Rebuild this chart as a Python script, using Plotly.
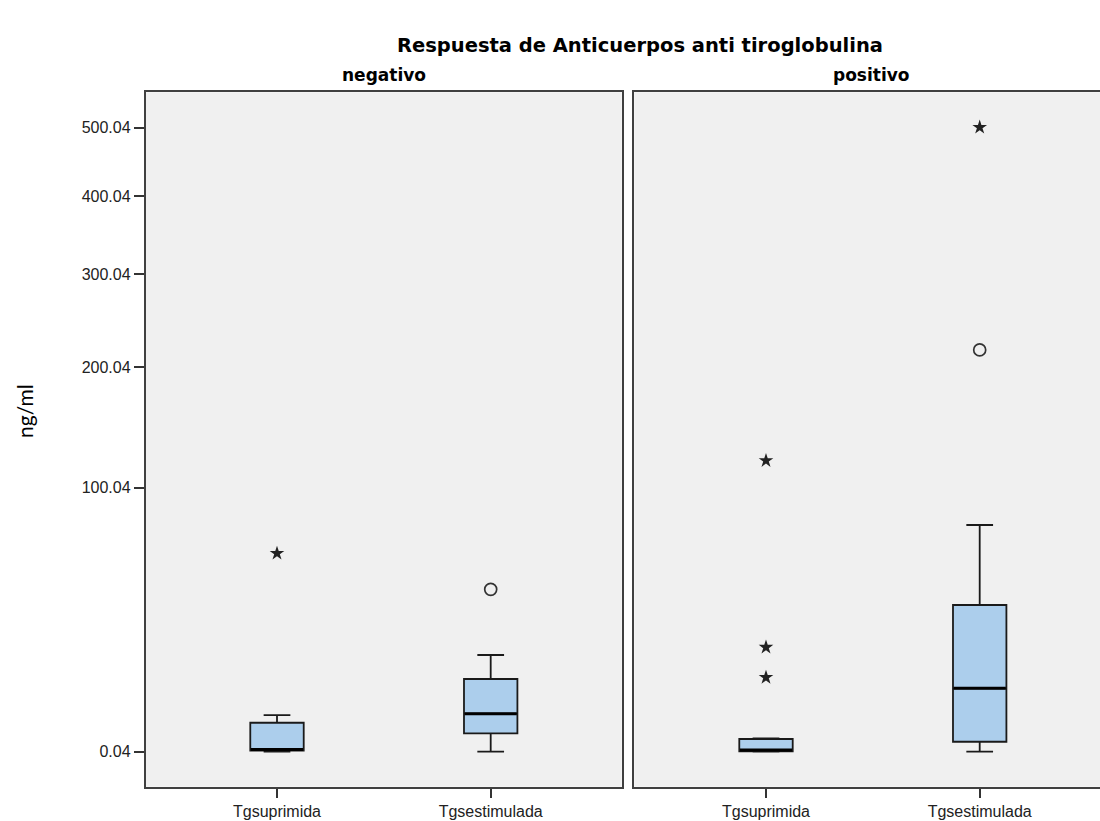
import numpy as np
import plotly.graph_objects as go

# ---------------- data (ng/ml) ----------------
categories = ["Tgsuprimida", "Tgsestimulada"]
panels = ["negativo", "positivo"]

# box statistics per panel: [Tgsuprimida, Tgsestimulada]
neg_lower = [0.04, 0.04]
neg_q1 = [0.12, 1.70]
neg_median = [0.20, 4.34]
neg_q3 = [3.01, 11.22]
neg_upper = [4.13, 17.64]

pos_lower = [0.04, 0.04]
pos_q1 = [0.06, 0.84]
pos_median = [0.16, 9.10]
pos_q3 = [1.10, 35.35]
pos_upper = [1.17, 75.90]

# outliers (circles) and extremes (stars)
neg_out_x = ["Tgsestimulada"]
neg_out_y = [42.1]
neg_ext_x = ["Tgsuprimida"]
neg_ext_y = [59.8]

pos_out_x = ["Tgsestimulada"]
pos_out_y = [217.0]
pos_ext_x = ["Tgsuprimida", "Tgsuprimida", "Tgsuprimida", "Tgsestimulada"]
pos_ext_y = [119.4, 20.0, 11.6, 500.4]

tick_values = [0.04, 100.04, 200.04, 300.04, 400.04, 500.04]
tick_labels = ["0.04", "100.04", "200.04", "300.04", "400.04", "500.04"]


def tr(v):
    """Square-root style axis scale used by the original chart."""
    return np.sqrt(np.asarray(v, dtype=float) + 0.96)


BOX_FILL = "#acceec"
W = 1100
H = 821
cat_pos = list(range(len(categories)))

fig = go.Figure()


def add_panel(xa, ya, lower, q1, med, q3, upper, ox, oy, ex, ey):
    fig.add_trace(go.Box(
        x=cat_pos, q1=tr(q1), median=tr(med), q3=tr(q3),
        lowerfence=tr(lower), upperfence=tr(upper),
        width=0.25, whiskerwidth=0.5,
        fillcolor=BOX_FILL, line=dict(color="#1a1a1a", width=1.8),
        boxpoints=False, xaxis=xa, yaxis=ya, showlegend=False, hoverinfo="skip"))
    # thick median lines
    for i in cat_pos:
        fig.add_trace(go.Scatter(
            x=[i - 0.122, i + 0.122], y=[float(tr(med[i])), float(tr(med[i]))],
            mode="lines", line=dict(color="black", width=3),
            xaxis=xa, yaxis=ya, showlegend=False, hoverinfo="skip"))
    fig.add_trace(go.Scatter(
        x=[categories.index(c) for c in ox], y=tr(oy), mode="markers",
        marker=dict(symbol="circle-open", size=12, color="#333333", line=dict(width=1.7)),
        xaxis=xa, yaxis=ya, showlegend=False, hoverinfo="skip"))
    fig.add_trace(go.Scatter(
        x=[categories.index(c) for c in ex], y=tr(ey), mode="markers",
        marker=dict(symbol="star", size=11, color="#222222"),
        xaxis=xa, yaxis=ya, showlegend=False, hoverinfo="skip"))


add_panel("x", "y", neg_lower, neg_q1, neg_median, neg_q3, neg_upper,
          neg_out_x, neg_out_y, neg_ext_x, neg_ext_y)
add_panel("x2", "y2", pos_lower, pos_q1, pos_median, pos_q3, pos_upper,
          pos_out_x, pos_out_y, pos_ext_x, pos_ext_y)

unit = 213.7
ylo, yhi = 1 - 35.0 / 29.19, 1 + 659.4 / 29.19

left0, left1 = 145.7, 621.7
right0 = 634.3
top_px, bot_px = 92.3, 786.7

tickfont = dict(family="Liberation Sans, Arial, sans-serif", size=16, color="#222222")

xcommon = dict(type="linear", tickmode="array", tickvals=cat_pos, ticktext=categories,
               showline=True, linecolor="#404040", linewidth=1.8, mirror=True,
               ticks="outside", ticklen=9, tickwidth=1.8, tickcolor="#333333",
               showgrid=False, zeroline=False, tickfont=tickfont, fixedrange=True)

fig.update_layout(
    width=W, height=H,
    margin=dict(l=0, r=0, t=0, b=0),
    paper_bgcolor="white", plot_bgcolor="#f0f0f0",
    xaxis=dict(**xcommon, domain=[left0 / W, left1 / W],
               range=[-131.3 / unit, -131.3 / unit + (left1 - left0) / unit]),
    xaxis2=dict(**xcommon, domain=[right0 / W, 1.0], anchor="y2",
                range=[-131.7 / unit, -131.7 / unit + (W - right0) / unit]),
    yaxis=dict(domain=[(H - bot_px) / H, (H - top_px) / H], range=[ylo, yhi],
               tickmode="array", tickvals=tr(tick_values), ticktext=tick_labels,
               ticks="outside", ticklen=10, tickwidth=2, tickcolor="#333333",
               showline=True, linecolor="#404040", linewidth=1.8, mirror=True,
               showgrid=False, zeroline=False, tickfont=tickfont),
    yaxis2=dict(domain=[(H - bot_px) / H, (H - top_px) / H], range=[ylo, yhi],
                anchor="x2", showticklabels=False, ticks="",
                showline=True, linecolor="#404040", linewidth=1.8, mirror=False,
                showgrid=False, zeroline=False),
)

fig.add_annotation(text="<b>Respuesta de Anticuerpos anti tiroglobulina</b>",
                   x=640 / W, y=1 - 46 / H, xref="paper", yref="paper",
                   showarrow=False,
                   font=dict(family="DejaVu Sans, Verdana, sans-serif", size=19.5, color="black"),
                   xanchor="center", yanchor="middle")
panelfont = dict(family="DejaVu Sans, Verdana, sans-serif", size=17, color="black")
fig.add_annotation(text="<b>negativo</b>", x=(left0 + left1) / 2 / W, y=1 - 75 / H,
                   xref="paper", yref="paper", showarrow=False, font=panelfont,
                   xanchor="center", yanchor="middle")
fig.add_annotation(text="<b>positivo</b>", x=871 / W, y=1 - 75 / H,
                   xref="paper", yref="paper", showarrow=False, font=panelfont,
                   xanchor="center", yanchor="middle")
fig.add_annotation(text="ng/ml", x=24 / W, y=1 - 411 / H, xref="paper", yref="paper",
                   showarrow=False, textangle=-90,
                   font=dict(family="Lato, Liberation Sans, sans-serif", size=21, color="black"),
                   xanchor="center", yanchor="middle")

fig.write_html("out.html", config={"displayModeBar": False},
               post_script="document.body.style.margin='0';document.body.style.overflow='hidden';")
